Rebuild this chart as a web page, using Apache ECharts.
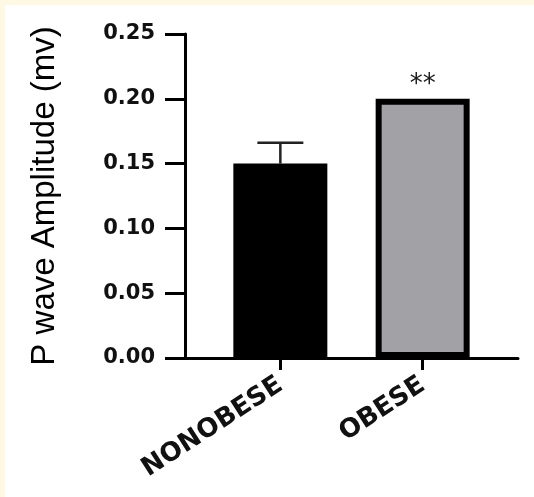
<!DOCTYPE html>
<html>
<head>
<meta charset="utf-8">
<script src="https://cdn.jsdelivr.net/npm/echarts@6/dist/echarts.min.js"></script>
<style>
  html, body { margin: 0; padding: 0; background: #fff9e4; width: 534px; height: 497px; overflow: hidden; }
  #c { position: absolute; left: 5px; top: 5px; width: 529px; height: 492px; background: #ffffff; }
</style>
</head>
<body>
<div id="c"></div>
<script>
// ---- data ----
const categories = ['NONOBESE', 'OBESE'];
const meanValues = [0.150, 0.200];
const errorUpper = [0.166, null];
const significance = ['', '**'];
const yTicks = [0.00, 0.05, 0.10, 0.15, 0.20, 0.25];
const yTitle = 'P wave Amplitude (mv)';

// ---- build ----
const barData = categories.map((c, i) => {
  const item = { value: [i + 1, meanValues[i]] };
  if (i === 1) {
    item.itemStyle = { color: '#a2a1a5', borderColor: '#000000', borderWidth: 6 };
  }
  if (significance[i]) {
    item.label = {
      show: true, position: 'top', distance: 1,
      formatter: significance[i],
      fontFamily: 'DejaVu Sans', fontSize: 26, color: '#1a1a1a'
    };
  }
  return item;
});
const errData = categories.map((c, i) => errorUpper[i] == null ? null : [i + 1, meanValues[i], errorUpper[i]]).filter(d => d);

const chart = echarts.init(document.getElementById('c'), null, { renderer: 'canvas' });
chart.setOption({
  animation: false,
  backgroundColor: '#ffffff',
  grid: { left: 180, top: 29, right: 16, bottom: 139, containLabel: false, outerBoundsMode: 'none' },
  xAxis: {
    type: 'value',
    min: 0.33, max: 2.67,
    splitLine: { show: false },
    axisLine: { show: true, onZero: false, lineStyle: { color: '#000', width: 3 } },
    axisTick: { show: true, customValues: [1, 2], length: 12, lineStyle: { color: '#000', width: 3 } },
    axisLabel: {
      show: true, customValues: [1, 2],
      formatter: v => categories[Math.round(v) - 1] || '',
      rotate: 33, margin: 25,
      fontFamily: 'DejaVu Sans', fontWeight: 'bold', fontSize: 26, color: '#111'
    }
  },
  yAxis: {
    type: 'value',
    min: 0, max: 0.25, interval: 0.05,
    splitLine: { show: false },
    axisLine: { show: true, lineStyle: { color: '#000', width: 3 } },
    axisTick: { show: true, length: 20, lineStyle: { color: '#000', width: 3 } },
    axisLabel: {
      margin: 30,
      formatter: v => v.toFixed(2),
      fontFamily: 'DejaVu Sans', fontWeight: 'bold', fontSize: 21, color: '#111'
    },
    name: yTitle,
    nameLocation: 'middle',
    nameRotate: 90,
    nameGap: 124,
    nameTextStyle: { fontFamily: 'Liberation Sans', fontSize: 33, color: '#000' }
  },
  series: [
    {
      type: 'bar',
      barWidth: 94,
      itemStyle: { color: '#000000' },
      data: barData,
      z: 2
    },
    {
      type: 'custom',
      z: 3,
      data: errData,
      renderItem: function (params, api) {
        const x = api.value(0);
        const base = api.coord([x, api.value(1)]);
        const top = api.coord([x, api.value(2)]);
        const half = 23;
        return {
          type: 'group',
          children: [
            { type: 'line', shape: { x1: base[0], y1: base[1], x2: top[0], y2: top[1] }, style: { stroke: '#222', lineWidth: 2.5 } },
            { type: 'line', shape: { x1: top[0] - half, y1: top[1], x2: top[0] + half, y2: top[1] }, style: { stroke: '#222', lineWidth: 2.5 } }
          ]
        };
      }
    }
  ]
});
</script>
</body>
</html>
